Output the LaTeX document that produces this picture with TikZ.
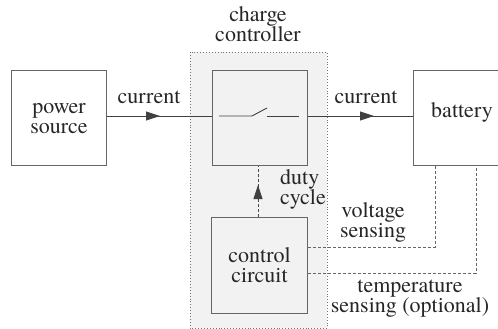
\documentclass[tikz,border=0pt]{standalone}
\usepackage{fontspec}
\newfontfamily\tms{texgyretermes}[Extension=.otf,UprightFont=*-regular]
\usetikzlibrary{arrows.meta}
\begin{document}
\begin{tikzpicture}[x=1pt,y=-1pt,
  box/.style={draw=black!60,line width=1.1pt,minimum width=95pt,minimum height=95pt,inner sep=0pt},
  lbl/.style={align=center,inner sep=0pt,font=\tms\fontsize{22}{20}\selectfont,text=black!85},
  wire/.style={draw=black!75,line width=0.9pt},
  sense/.style={draw=black!60,line width=0.9pt,dash pattern=on 3pt off 2pt},
  tip/.style={-{Triangle[length=14pt,width=9pt]}}]
\useasboundingbox (0,0) rectangle (498,329);
\fill[black!5] (190,52) rectangle (327,328);
\draw[black!55,line width=0.9pt,dotted] (190,52) rectangle (327,328);
\node[box,anchor=north west] (src) at (11,70) {};
\node[lbl] at (src.center) {power\\source};
\node[box,anchor=north west] (sw) at (212,70) {};
\node[box,anchor=north west,minimum width=100pt] (bat) at (413,70) {};
\node[lbl] at (462,112) {battery};
\node[box,anchor=north west,minimum width=96pt,minimum height=96pt] (cc) at (211,217) {};
\node[lbl] at (cc.center) {control\\circuit};
\node[lbl] (title) at (258,24) {charge\\controller};
\node[lbl] (cur1) at (149,97) {current};
\node[lbl] (cur2) at (366,97) {current};
\node[lbl,align=left] (duty) at (303,189) {duty\\cycle};
\node[lbl] (volt) at (373,222) {voltage\\sensing};
\node[lbl] (temp) at (410,299) {temperature\\sensing (optional)};
% switch
\coordinate (s1) at (219,116);
\coordinate (s2) at (252,116);
\coordinate (s3) at (267,108);
\coordinate (s4) at (267,116);
\coordinate (s5) at (299,116);
\draw[wire] (s1) -- (s2) -- (s3);
\draw[wire] (s4) -- (s5);
% current lines
\draw[wire] (src.east |- 0,116) -- (sw.west |- 0,116);
\draw[wire] (sw.east |- 0,116) -- (bat.west |- 0,116);
\coordinate (a1) at (160,116);
\coordinate (a2) at (374,116);
\draw[wire,tip] (147,116) -- (a1);
\draw[wire,tip] (361,116) -- (a2);
% duty cycle
\draw[sense,black!70] (cc.north -| 258,0) -- (sw.south -| 258,0);
\draw[black!75,line width=0.9pt,tip] (258,199) -- (258,185);
% sensing
\draw[sense] (cc.east |- 0,247) -- (435,247) -- (bat.south -| 435,0);
\draw[sense] (cc.east |- 0,273) -- (476,273) -- (bat.south -| 476,0);
\end{tikzpicture}
\end{document}
